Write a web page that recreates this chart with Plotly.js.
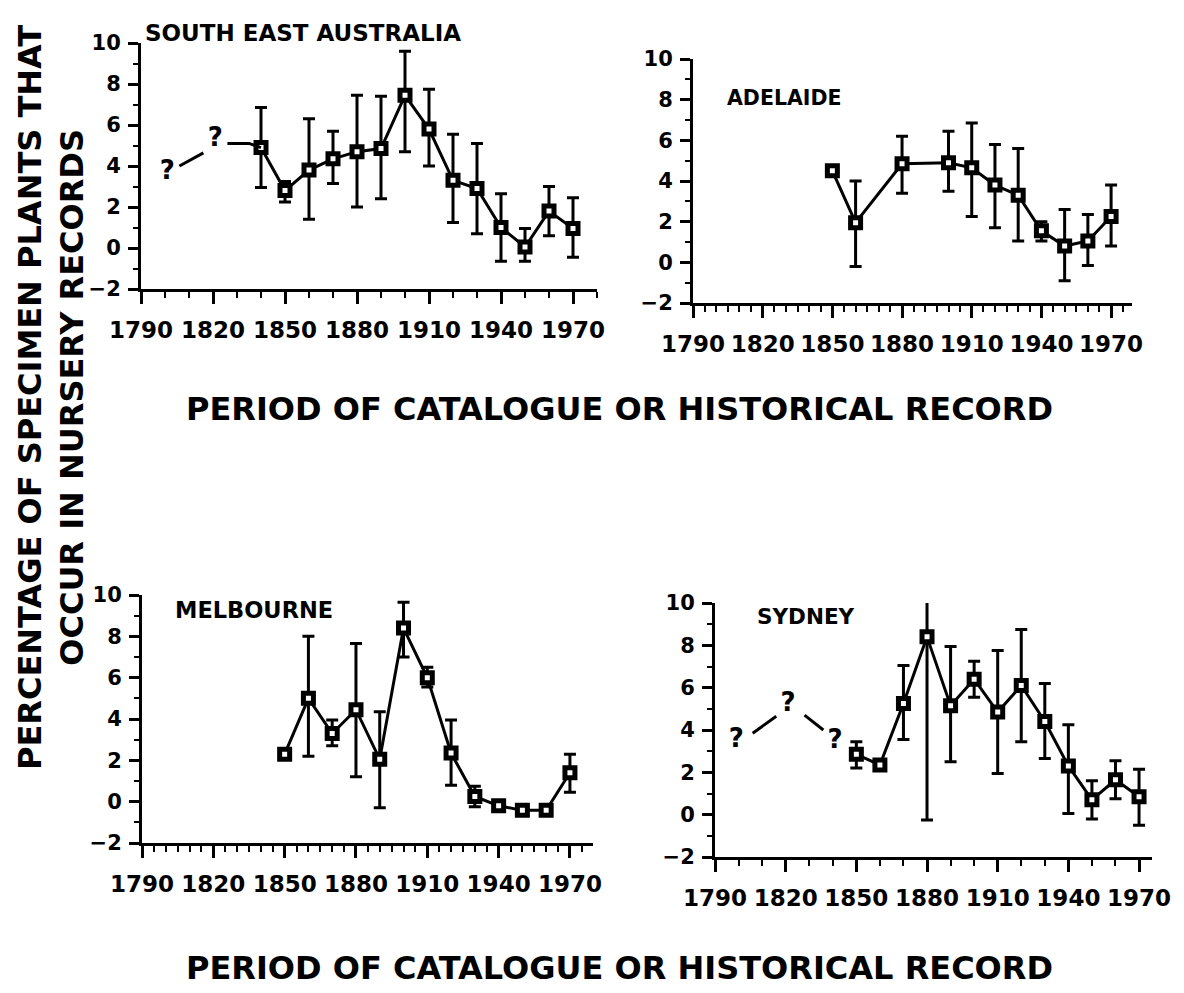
<!DOCTYPE html>
<html>
<head>
<meta charset="utf-8">
<script src="https://cdn.plot.ly/plotly-3.0.1.min.js"></script>
<style>html,body{margin:0;padding:0;background:#fff}#chart{width:1184px;height:993px}</style>
</head>
<body>
<div id="chart"></div>
<script>
// ---------- DATA ----------
const panelTitles = ['SOUTH EAST AUSTRALIA', 'ADELAIDE', 'MELBOURNE', 'SYDNEY'];
const xTitle = 'PERIOD OF CATALOGUE OR HISTORICAL RECORD';
const yTitleLines = ['PERCENTAGE OF SPECIMEN PLANTS THAT', 'OCCUR IN NURSERY RECORDS'];
const xTickVals = [1790, 1820, 1850, 1880, 1910, 1940, 1970];
const xTickText = ['1790', '1820', '1850', '1880', '1910', '1940', '1970'];
const yTickVals = [-2, 0, 2, 4, 6, 8, 10];

// South East Australia
const seaYears = [1840, 1850, 1860, 1870, 1880, 1890, 1900, 1910, 1920, 1930, 1940, 1950, 1960, 1970];
const seaVals  = [4.9, 2.8, 3.8, 4.35, 4.7, 4.85, 7.45, 5.8, 3.3, 2.9, 1.0, 0.05, 1.8, 0.95];
const seaHi    = [6.85, 3.25, 6.3, 5.7, 7.45, 7.4, 9.6, 7.75, 5.55, 5.1, 2.65, 0.95, 3.0, 2.45];
const seaLo    = [2.95, 2.25, 1.4, 3.15, 2.0, 2.4, 4.7, 4.0, 1.25, 0.7, -0.65, -0.65, 0.6, -0.45];
const seaQYears = [1801, 1821];
const seaQVals  = [3.66, 5.3];
const seaDashYears = [1806, 1816];
const seaDashVals  = [4.0, 4.64];
const seaStubYears = [1826, 1835, 1840];
const seaStubVals  = [5.1, 5.1, 4.9];

// Adelaide
const adlYears = [1850, 1860, 1880, 1900, 1910, 1920, 1930, 1940, 1950, 1960, 1970];
const adlVals  = [4.5, 1.95, 4.85, 4.9, 4.65, 3.8, 3.3, 1.55, 0.8, 1.05, 2.25];
const adlHi    = [null, 4.0, 6.2, 6.45, 6.85, 5.8, 5.6, 2.0, 2.6, 2.35, 3.8];
const adlLo    = [null, -0.2, 3.4, 3.5, 2.25, 1.7, 1.05, 1.05, -0.9, -0.15, 0.8];

// Melbourne
const melYears = [1850, 1860, 1870, 1880, 1890, 1900, 1910, 1920, 1930, 1940, 1950, 1960, 1970];
const melVals  = [2.3, 5.0, 3.3, 4.45, 2.05, 8.4, 6.0, 2.35, 0.25, -0.2, -0.42, -0.42, 1.4];
const melHi    = [null, 8.0, 3.95, 7.65, 4.35, 9.65, 6.5, 3.95, 0.75, null, null, null, 2.3];
const melLo    = [null, 2.2, 2.7, 1.2, -0.3, 7.0, 5.55, 0.8, -0.25, null, null, null, 0.45];

// Sydney
const sydYears = [1850, 1860, 1870, 1880, 1890, 1900, 1910, 1920, 1930, 1940, 1950, 1960, 1970];
const sydVals  = [2.85, 2.35, 5.25, 8.4, 5.15, 6.4, 4.85, 6.1, 4.4, 2.3, 0.7, 1.65, 0.85];
const sydHi    = [3.45, null, 7.05, 10.15, 7.95, 7.25, 7.75, 8.75, 6.2, 4.25, 1.6, 2.55, 2.15];
const sydLo    = [2.2, null, 3.55, -0.25, 2.5, 5.55, 1.95, 3.45, 2.65, 0.05, -0.2, 0.75, -0.5];
const sydQYears = [1799, 1821, 1841];
const sydQVals  = [3.5, 5.2, 3.45];
const sydDashYears = [1806, 1816, null, 1828, 1836];
const sydDashVals  = [3.85, 4.65, null, 4.7, 4.0];

// ---------- BUILD ----------
const W = 1184, H = 993;
const px = v => v / W;
const py = v => 1 - v / H;

function series(xs, ys, hi, lo, n) {
  const sfx = n === 1 ? '' : String(n);
  return {
    type: 'scatter', mode: 'lines+markers',
    x: xs, y: ys, xaxis: 'x' + sfx, yaxis: 'y' + sfx,
    cliponaxis: false,
    line: {color: 'black', width: 3},
    marker: {symbol: 'square', size: 10, color: 'white', line: {color: 'black', width: 5}},
    error_y: {
      type: 'data', symmetric: false,
      array: ys.map((v, i) => hi[i] == null ? 0 : hi[i] - v),
      arrayminus: ys.map((v, i) => lo[i] == null ? 0 : v - lo[i]),
      color: 'black', thickness: 3, width: 6
    },
    showlegend: false, hoverinfo: 'x+y'
  };
}
function segs(xs, ys, n) {
  const sfx = n === 1 ? '' : String(n);
  return {type: 'scatter', mode: 'lines', x: xs, y: ys, xaxis: 'x' + sfx, yaxis: 'y' + sfx,
    connectgaps: false, cliponaxis: false, line: {color: 'black', width: 3}, showlegend: false, hoverinfo: 'skip'};
}
function qmarks(xs, ys, n) {
  const sfx = n === 1 ? '' : String(n);
  return {type: 'scatter', mode: 'text', x: xs, y: ys, text: xs.map(() => '?'), xaxis: 'x' + sfx, yaxis: 'y' + sfx,
    cliponaxis: false, textfont: {family: 'DejaVu Sans', size: 26, weight: 'bold', color: 'black'},
    showlegend: false, hoverinfo: 'skip'};
}

const data = [
  series(seaYears, seaVals, seaHi, seaLo, 1),
  segs(seaDashYears, seaDashVals, 1),
  segs(seaStubYears, seaStubVals, 1),
  qmarks(seaQYears, seaQVals, 1),
  series(adlYears, adlVals, adlHi, adlLo, 2),
  series(melYears, melVals, melHi, melLo, 3),
  series(sydYears, sydVals, sydHi, sydLo, 4),
  segs(sydDashYears, sydDashVals, 4),
  qmarks(sydQYears, sydQVals, 4)
];

const tickFontX = {family: 'DejaVu Sans', size: 23, weight: 'bold', color: 'black'};
const tickFontY = {family: 'DejaVu Sans', size: 21, weight: 'bold', color: 'black'};

function xax(x0, x1, end, minorStep, anchor) {
  return {
    domain: [px(x0), px(x1)], anchor: anchor, range: [1790, end],
    tickmode: 'array', tickvals: xTickVals, ticktext: xTickText,
    ticks: 'outside', ticklen: 12, tickwidth: 3, tickcolor: 'black',
    minor: {tickmode: 'linear', tick0: 1790, dtick: minorStep, ticks: 'outside', ticklen: 6, tickwidth: 2, tickcolor: 'black'},
    showline: true, linewidth: 3, linecolor: 'black',
    showgrid: false, zeroline: false, tickfont: tickFontX, ticklabelstandoff: 6, fixedrange: true
  };
}
function yax(yTop, yBot, anchor) {
  return {
    domain: [py(yBot), py(yTop)], anchor: anchor, range: [-2, 10],
    tickmode: 'array', tickvals: yTickVals,
    ticks: 'outside', ticklen: 10, tickwidth: 3, tickcolor: 'black',
    minor: {tickmode: 'linear', tick0: -1, dtick: 2, ticks: 'outside', ticklen: 5, tickwidth: 2, tickcolor: 'black'},
    showline: true, linewidth: 3, linecolor: 'black',
    showgrid: false, zeroline: false, tickfont: tickFontY, ticklabelstandoff: 3, fixedrange: true
  };
}

const titleFont = {family: 'DejaVu Sans', size: 23, weight: 'bold', color: 'black'};
const bigFont = {family: 'DejaVu Sans', size: 32, weight: 'bold', color: 'black'};

function ann(text, x, y, font, extra) {
  return Object.assign({text: text, xref: 'paper', yref: 'paper', x: px(x), y: py(y),
    xanchor: 'center', yanchor: 'middle', showarrow: false, font: font}, extra || {});
}

const layout = {
  width: W, height: H,
  margin: {l: 0, r: 0, t: 0, b: 0},
  paper_bgcolor: 'white', plot_bgcolor: 'white',
  showlegend: false,
  xaxis:  xax(141, 597, 1980, 10, 'y'),
  yaxis:  yax(43, 289, 'x'),
  xaxis2: xax(693, 1132, 1979, 5, 'y2'),
  yaxis2: yax(59, 303, 'x2'),
  xaxis3: xax(142, 593, 1979.7, 5, 'y3'),
  yaxis3: yax(595, 843, 'x3'),
  xaxis4: xax(715, 1152, 1975.5, 10, 'y4'),
  yaxis4: yax(603, 857, 'x4'),
  annotations: [
    ann(panelTitles[0], 303, 33, Object.assign({}, titleFont, {size: 23})),
    ann(panelTitles[1], 784, 98, Object.assign({}, titleFont, {size: 20.5})),
    ann(panelTitles[2], 254, 610, Object.assign({}, titleFont, {size: 22.5})),
    ann(panelTitles[3], 806, 616, Object.assign({}, titleFont, {size: 21.5})),
    ann(xTitle, 619, 409, bigFont),
    ann(xTitle, 619, 968, bigFont),
    ann(yTitleLines.join('<br>'), 51, 398, Object.assign({}, bigFont, {size: 32}), {textangle: -90})
  ]
};

Plotly.newPlot('chart', data, layout, {staticPlot: true, displayModeBar: false});
</script>
</body>
</html>
